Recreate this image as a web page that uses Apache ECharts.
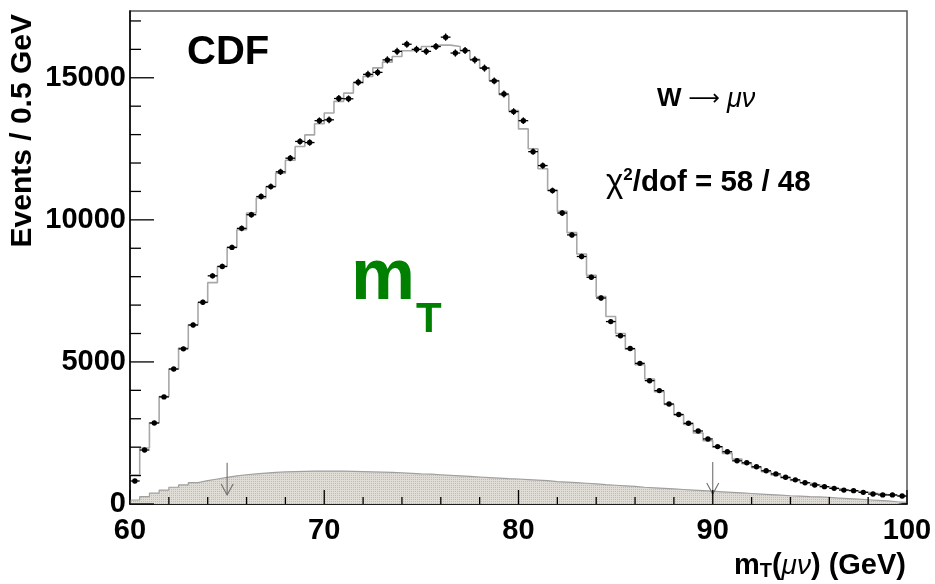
<!DOCTYPE html>
<html>
<head>
<meta charset="utf-8">
<script src="https://cdn.jsdelivr.net/npm/echarts@6/dist/echarts.min.js"></script>
<style>
  html, body { margin: 0; padding: 0; background: #fff; }
  #plot { width: 935px; height: 584px; }
</style>
</head>
<body>
<div id="plot"></div>
<script>
// binning: 80 bins of 0.5 GeV between 60 and 100
const xMin = 60;
const xMax = 100;
const binWidth = 0.5;

// data (events per bin)
const dataCounts = [
  810, 1900, 2850, 3770, 4750, 5460, 6300, 7100, 8030, 8360,
  9030, 9700, 10180, 10820, 11170, 11690, 12170, 12760, 12720, 13490,
  13520, 14270, 14260, 14840, 15120, 15190, 15630, 15930, 16180, 16000,
  15930, 16100, 16430, 15870, 15960, 15630, 15340, 14890, 14430, 13810,
  13490, 12400, 11910, 11030, 10240, 9470, 8710, 7980, 7250, 6420,
  5920, 5470, 4950, 4340, 3990, 3520, 3150, 2840, 2570, 2290,
  2020, 1840, 1520, 1450, 1310, 1170, 1060, 940, 850, 750,
  670, 610, 550, 490, 470, 410, 350, 320, 320, 280
];

// simulation (step histogram)
const modelCounts = [
  1020, 1970, 2860, 3780, 4750, 5490, 6300, 7090, 7790, 8360,
  9030, 9650, 10240, 10770, 11170, 11640, 12100, 12580, 12990, 13380,
  13760, 14170, 14460, 14820, 15050, 15350, 15550, 15750, 15950, 16000,
  16100, 16150, 16150, 16100, 15950, 15650, 15350, 14900, 14400, 13850,
  13200, 12500, 11800, 11050, 10300, 9550, 8800, 8050, 7300, 6600,
  6000, 5450, 4900, 4400, 3950, 3500, 3130, 2800, 2500, 2230,
  2000, 1780, 1580, 1420, 1280, 1140, 1020, 920, 830, 740,
  670, 600, 540, 490, 450, 410, 370, 330, 300, 280
];

// background (filled histogram)
const backgroundCounts = [
  140, 260, 380, 490, 590, 670, 750, 820, 880, 940,
  990, 1030, 1060, 1090, 1110, 1130, 1140, 1150, 1160, 1160,
  1160, 1160, 1150, 1140, 1130, 1120, 1110, 1100, 1080, 1060,
  1050, 1030, 1010, 990, 970, 950, 930, 910, 890, 880,
  860, 840, 820, 790, 770, 750, 730, 710, 680, 660,
  640, 620, 590, 570, 550, 530, 510, 490, 470, 450,
  430, 410, 390, 370, 350, 330, 310, 290, 280, 260,
  250, 230, 210, 190, 170, 150, 130, 110, 80, 60
];

// fit range arrows
const arrowX = [65, 90];
const arrowTop = [1450, 1480];
const arrowTip = [320, 350];

// axis ticks
const xTicks = [60, 70, 80, 90, 100];
const xMinorTicks = [62, 64, 66, 68, 72, 74, 76, 78, 82, 84, 86, 88, 92, 94, 96, 98];
const yTicks = [0, 5000, 10000, 15000];
const yMinorTicks = [1000, 2000, 3000, 4000, 6000, 7000, 8000, 9000, 11000, 12000, 13000, 14000, 16000, 17000];
const yMax = 17350;

const font = "'Liberation Sans', Arial, Helvetica, sans-serif";

// step series: point at each low edge, plus closing point at xMax
function stepData(counts) {
  const pts = counts.map((v, i) => [xMin + i * binWidth, v]);
  pts.push([xMax, counts[counts.length - 1]]);
  return pts;
}

// dotted fill like the ROOT hatch
const pat = document.createElement('canvas');
pat.width = 2; pat.height = 2;
const pctx = pat.getContext('2d');
pctx.fillStyle = '#e0dcd6';
pctx.fillRect(0, 0, 2, 2);
pctx.fillStyle = '#bfbbb5';
pctx.fillRect(1, 1, 1, 1);

// tick marks: [x, y, which axis (0 = x, 1 = y), long]
const tickData = []
  .concat(xTicks.map(v => [v, 0, 0, 1]))
  .concat(xMinorTicks.map(v => [v, 0, 0, 0]))
  .concat(yTicks.map(v => [xMin, v, 1, 1]))
  .concat(yMinorTicks.map(v => [xMin, v, 1, 0]));

const chart = echarts.init(document.getElementById('plot'), null, { renderer: 'canvas' });

const option = {
  animation: false,
  backgroundColor: '#fff',
  grid: {
    left: 130, right: 28, top: 11, bottom: 80,
    show: true, borderColor: '#555', borderWidth: 1.5,
    containLabel: false, outerBoundsMode: 'none'
  },
  xAxis: [{
    type: 'value', min: xMin, max: xMax, interval: 10,
    axisLine: { show: true, lineStyle: { color: '#000', width: 1.5 } },
    axisTick: { show: false },
    splitLine: { show: false },
    axisLabel: {
      color: '#000', fontFamily: font, fontWeight: 'bold', fontSize: 29, margin: 12,
      formatter: v => (xTicks.indexOf(v) >= 0 ? String(v) : '')
    }
  }],
  yAxis: [{
    type: 'value', min: 0, max: yMax, interval: 5000,
    axisLine: { show: true, lineStyle: { color: '#000', width: 1.5 } },
    axisTick: { show: false },
    splitLine: { show: false },
    axisLabel: {
      color: '#000', fontFamily: font, fontWeight: 'bold', fontSize: 29, margin: 4,
      showMaxLabel: false, verticalAlign: 'middle', padding: [6, 0, 0, 0],
      formatter: v => (yTicks.indexOf(v) >= 0 ? String(v) : '')
    }
  }],
  series: [
    {
      name: 'background', type: 'line', step: 'end', symbol: 'none',
      data: stepData(backgroundCounts),
      lineStyle: { color: '#a0a0a0', width: 1.2 },
      areaStyle: { color: { image: pat, repeat: 'repeat' }, opacity: 1 },
      z: 1
    },
    {
      name: 'arrows', type: 'custom',
      data: arrowX.map((x, i) => [x, arrowTop[i], arrowTip[i]]),
      renderItem: function (params, api) {
        const top = api.coord([api.value(0), api.value(1)]);
        const tip = api.coord([api.value(0), api.value(2)]);
        const st = { stroke: '#6e6e6e', lineWidth: 1.1, fill: null };
        return {
          type: 'group', children: [
            { type: 'line', shape: { x1: top[0], y1: top[1], x2: tip[0], y2: tip[1] }, style: st },
            { type: 'polyline', shape: { points: [[tip[0] - 6, tip[1] - 11], [tip[0], tip[1]], [tip[0] + 6, tip[1] - 11]] }, style: st }
          ]
        };
      },
      z: 3
    },
    {
      name: 'simulation', type: 'line', step: 'end', symbol: 'none',
      data: stepData(modelCounts),
      lineStyle: { color: '#a8a8a8', width: 1.6 },
      z: 4
    },
    {
      name: 'data', type: 'custom',
      data: dataCounts.map((v, i) => [xMin + (i + 0.5) * binWidth, v]),
      encode: { x: 0, y: 1 },
      renderItem: function (params, api) {
        const x = api.value(0), y = api.value(1);
        const c = api.coord([x, y]);
        const l = api.coord([x - binWidth / 2, y]);
        const r = api.coord([x + binWidth / 2, y]);
        const e = Math.sqrt(y);
        const t = api.coord([x, y + e]);
        const b = api.coord([x, y - e]);
        const st = { stroke: '#000', lineWidth: 1.3 };
        return {
          type: 'group', children: [
            { type: 'line', shape: { x1: l[0], y1: l[1], x2: r[0], y2: r[1] }, style: st },
            { type: 'line', shape: { x1: t[0], y1: t[1], x2: b[0], y2: b[1] }, style: st },
            { type: 'circle', shape: { cx: c[0], cy: c[1], r: 2.7 }, style: { fill: '#000' } }
          ]
        };
      },
      z: 5
    },
    {
      // inward axis ticks, drawn over the filled background
      name: 'ticks', type: 'custom', silent: true, clip: false,
      data: tickData,
      encode: { x: 0, y: 1 },
      renderItem: function (params, api) {
        const p = api.coord([api.value(0), api.value(1)]);
        const isX = api.value(2) === 0;
        const long = api.value(3) === 1;
        const st = { stroke: '#000', lineWidth: 1.3 };
        if (isX) {
          const len = long ? 14 : 7;
          return { type: 'line', shape: { x1: p[0], y1: p[1], x2: p[0], y2: p[1] - len }, style: st };
        }
        const len = long ? 24 : 11;
        return { type: 'line', shape: { x1: p[0], y1: p[1], x2: p[0] + len, y2: p[1] }, style: st };
      },
      z: 6
    }
  ],
  graphic: [
    {
      type: 'text', x: 23, y: 14, rotation: Math.PI / 2,
      style: { text: 'Events / 0.5 GeV', font: 'bold 30px ' + font, fill: '#000', align: 'right', verticalAlign: 'middle' }
    },
    {
      type: 'text', x: 906, y: 566,
      style: {
        text: '{a|m}{s|T}{a|(}{i|μν}{a|) (GeV)}', align: 'right', verticalAlign: 'middle',
        rich: {
          a: { fontFamily: font, fontWeight: 'bold', fontSize: 29, fill: '#000', lineHeight: 30 },
          i: { fontFamily: font, fontStyle: 'italic', fontSize: 28, fill: '#000', lineHeight: 30 },
          s: { fontFamily: font, fontWeight: 'bold', fontSize: 20, fill: '#000', lineHeight: 20, padding: [20, 0, 0, 0], verticalAlign: 'bottom' }
        }
      }
    },
    {
      type: 'text', x: 187, y: 53,
      style: { text: 'CDF', font: 'bold 40px ' + font, fill: '#000', align: 'left', verticalAlign: 'middle' }
    },
    {
      type: 'text', x: 657, y: 99,
      style: {
        text: '{b|W}{n| ⟶ }{i|μν}', align: 'left', verticalAlign: 'middle',
        rich: {
          b: { fontFamily: font, fontWeight: 'bold', fontSize: 26, fill: '#000', lineHeight: 30 },
          n: { fontFamily: "'DejaVu Sans', sans-serif", fontSize: 22, fill: '#000', lineHeight: 30 },
          i: { fontFamily: font, fontStyle: 'italic', fontSize: 27, fill: '#000', lineHeight: 30 }
        }
      }
    },
    {
      type: 'text', x: 606, y: 183,
      style: {
        text: '{c|χ}{p|2}{b|/dof = 58 / 48}', align: 'left', verticalAlign: 'middle',
        rich: {
          c: { fontFamily: font, fontSize: 33, fill: '#000', lineHeight: 32 },
          p: { fontFamily: font, fontWeight: 'bold', fontSize: 17, fill: '#000', lineHeight: 18, padding: [0, 0, 10, 0], verticalAlign: 'top' },
          b: { fontFamily: font, fontWeight: 'bold', fontSize: 29.5, fill: '#000', lineHeight: 32 }
        }
      }
    },
    {
      type: 'text', x: 351, y: 279,
      style: { text: 'm', font: 'bold 72px ' + font, fill: '#008000', align: 'left', verticalAlign: 'middle' }
    },
    {
      type: 'text', x: 416, y: 320,
      style: { text: 'T', font: 'bold 42px ' + font, fill: '#008000', align: 'left', verticalAlign: 'middle' }
    }
  ]
};

chart.setOption(option);
</script>
</body>
</html>
